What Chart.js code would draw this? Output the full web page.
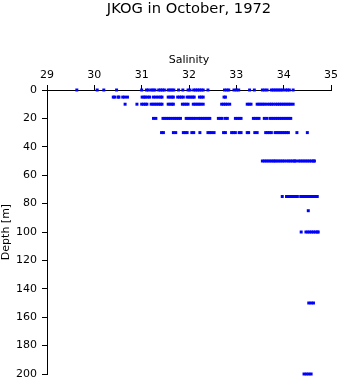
<!DOCTYPE html>
<html>
<head>
<meta charset="utf-8">
<script src="https://cdn.jsdelivr.net/npm/chart.js@4/dist/chart.umd.min.js"></script>
<style>
  html, body { margin: 0; padding: 0; background: #fff; }
</style>
</head>
<body>
<canvas id="myChart" width="341" height="384"></canvas>
<script>
// salinity readings by depth (m)
const depths = [0, 5, 10, 20, 30, 50, 75, 85, 100, 150, 200];

const sal0 = [29.63, 30.06, 30.2, 30.47, 31.0, 31.1, 31.14, 31.2, 31.24, 31.28, 31.36, 31.4, 31.44, 31.48,
  31.56, 31.6, 31.64, 31.68, 31.78, 31.87, 31.98, 32.02, 32.1, 32.14, 32.18, 32.22, 32.26, 32.3, 32.4,
  32.75, 32.8, 32.84, 32.95, 33.0, 33.05, 33.28, 33.38, 33.55, 33.6, 33.65, 33.74, 33.78, 33.82, 33.86,
  33.9, 33.94, 33.98, 34.04, 34.08, 34.12, 34.2];
const sal5 = [30.4, 30.43, 30.5, 30.52, 30.6, 30.64, 30.7, 31.01, 31.05, 31.08, 31.13, 31.17, 31.25, 31.3,
  31.35, 31.4, 31.43, 31.56, 31.6, 31.64, 31.67, 31.76, 31.8, 31.84, 31.88, 31.96, 32.0, 32.04, 32.08,
  32.11, 32.22, 32.26, 32.3, 32.74, 32.77];
const sal10 = [30.65, 30.9, 31.0, 31.04, 31.08, 31.11, 31.2, 31.24, 31.28, 31.32, 31.36, 31.4, 31.43, 31.56,
  31.6, 31.64, 31.67, 31.86, 31.9, 31.94, 31.98, 32.09, 32.13, 32.17, 32.21, 32.25, 32.3, 32.69, 32.73,
  32.77, 32.81, 32.86, 33.23, 33.27, 33.31, 33.44, 33.48, 33.52, 33.56, 33.6, 33.65, 33.7, 33.74, 33.78,
  33.83, 33.87, 33.91, 33.95, 33.99, 34.03, 34.07, 34.11, 34.15, 34.2];
const sal20 = [31.25, 31.3, 31.45, 31.49, 31.53, 31.57, 31.61, 31.66, 31.7, 31.74, 31.78, 31.82, 31.94, 31.98,
  32.02, 32.06, 32.1, 32.14, 32.2, 32.24, 32.28, 32.32, 32.36, 32.4, 32.44, 32.62, 32.66, 32.7, 32.77,
  32.81, 32.98, 33.02, 33.06, 33.1, 33.36, 33.4, 33.44, 33.48, 33.59, 33.64, 33.71, 33.75, 33.79, 33.83,
  33.87, 33.91, 33.95, 33.99, 34.03, 34.07, 34.11, 34.15];
const sal30 = [31.42, 31.46, 31.67, 31.72, 31.88, 31.92, 31.96, 32.06, 32.1, 32.23, 32.4, 32.44, 32.48, 32.53,
  32.73, 32.77, 32.9, 32.94, 32.98, 33.06, 33.1, 33.23, 33.26, 33.39, 33.44, 33.62, 33.66, 33.7, 33.74,
  33.82, 33.86, 33.9, 33.94, 33.98, 34.02, 34.06, 34.1, 34.28, 34.5];
const sal50 = [33.55, 33.59, 33.63, 33.67, 33.71, 33.75, 33.79, 33.82, 33.86, 33.9, 33.94, 33.98, 34.02, 34.07,
  34.11, 34.15, 34.19, 34.23, 34.25, 34.31, 34.35, 34.39, 34.43, 34.47, 34.51, 34.55, 34.59, 34.63, 34.65];
const sal75 = [33.97, 34.06, 34.1, 34.14, 34.18, 34.22, 34.26, 34.29, 34.36, 34.4, 34.44, 34.48, 34.52, 34.56,
  34.6, 34.64, 34.68, 34.71];
const sal85 = [34.52];
const sal100 = [34.37, 34.47, 34.51, 34.55, 34.59, 34.63, 34.67, 34.71, 34.73];
const sal150 = [34.53, 34.58, 34.63];
const sal200 = [34.43, 34.48, 34.53, 34.58];

const salinityTicks = [29, 30, 31, 32, 33, 34, 35];
const depthTicks = [0, 20, 40, 60, 80, 100, 120, 140, 160, 180, 200];

const rows = [sal0, sal5, sal10, sal20, sal30, sal50, sal75, sal85, sal100, sal150, sal200];
var points = [];
rows.forEach((row, i) => {
  row.forEach(s => points.push({ x: s, y: depths[i] }));
});

const ctx = document.getElementById('myChart');
const fontName = '"DejaVu Sans", sans-serif';

new Chart(ctx, {
  type: 'scatter',
  data: {
    datasets: [{
      data: points,
      backgroundColor: '#0000ff',
      borderWidth: 0,
      pointStyle: 'rect',
      pointRadius: 2.1,
      clip: false
    }]
  },
  options: {
    responsive: false,
    animation: false,
    events: [],
    layout: {
      padding: { top: 0, left: 0, right: 10, bottom: 10 }
    },
    plugins: {
      legend: { display: false },
      tooltip: { enabled: false },
      title: {
        display: true,
        fullSize: false,
        text: 'JKOG in October, 1972',
        color: '#000',
        font: { family: fontName, size: 14.7, weight: 'normal', lineHeight: 1.2 },
        padding: { top: 0, bottom: 32.36 }
      }
    },
    scales: {
      x: {
        type: 'linear',
        position: 'top',
        min: 29,
        max: 35,
        afterBuildTicks: s => { s.ticks = salinityTicks.map(v => ({ value: v })); },
        afterFit: s => { s.height = 40; s.paddingLeft = 0; s.paddingRight = 0; },
        ticks: {
          color: '#000',
          padding: 3,
          maxRotation: 0,
          font: { family: fontName, size: 11 }
        },
        grid: {
          drawOnChartArea: false,
          drawTicks: true,
          tickLength: 5,
          color: '#000'
        },
        border: { display: true, color: '#000', width: 1 },
        title: {
          display: true,
          text: 'Salinity',
          color: '#000',
          font: { family: fontName, size: 11 },
          padding: { top: 4, bottom: 2 }
        }
      },
      y: {
        type: 'linear',
        position: 'left',
        reverse: true,
        min: 0,
        max: 200,
        afterBuildTicks: s => { s.ticks = depthTicks.map(v => ({ value: v })); },
        afterFit: s => { s.width = 47; s.paddingTop = 0; s.paddingBottom = 0; },
        ticks: {
          color: '#000',
          padding: 5,
          font: { family: fontName, size: 11 }
        },
        grid: {
          drawOnChartArea: false,
          drawTicks: true,
          tickLength: 5,
          color: '#000'
        },
        border: { display: true, color: '#000', width: 1 },
        title: {
          display: true,
          text: 'Depth [m]',
          color: '#000',
          font: { family: fontName, size: 11 },
          padding: { top: 0, bottom: 0 }
        }
      }
    }
  }
});
</script>
</body>
</html>
